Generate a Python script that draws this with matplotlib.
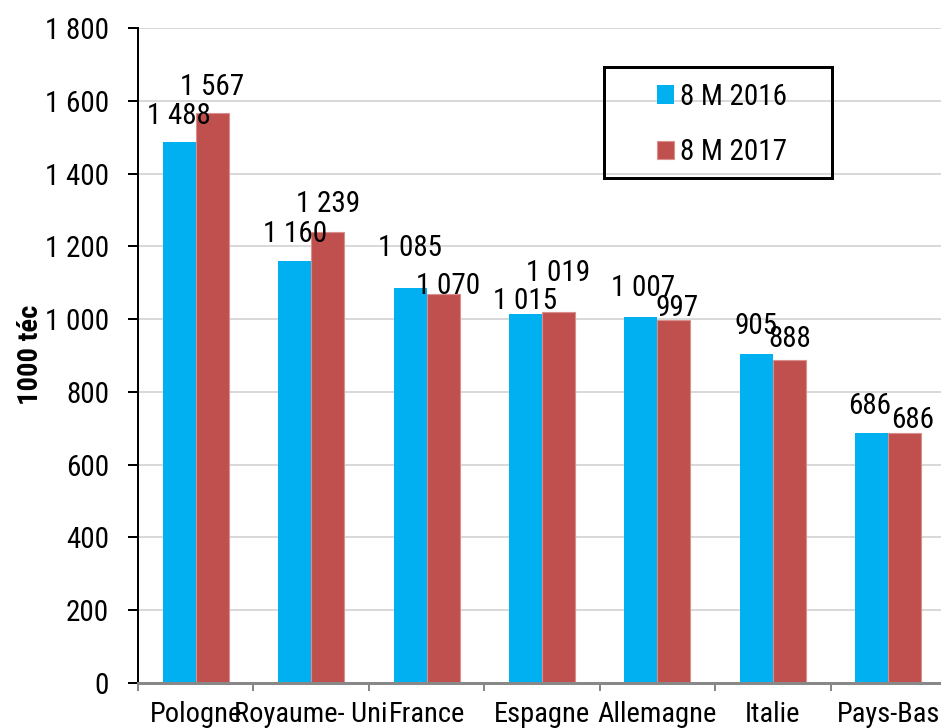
import numpy as np
import matplotlib
matplotlib.use("Agg")
import matplotlib.pyplot as plt
from matplotlib.patches import Rectangle
from matplotlib.ticker import FuncFormatter, FixedLocator

# condensed face, close to the narrow Arial of the original
plt.rcParams['font.family'] = ['Roboto Condensed', 'Liberation Sans', 'DejaVu Sans']

# data
pays = ["Pologne", "Royaume- Uni", "France", "Espagne", "Allemagne", "Italie", "Pays-Bas"]
val_2016 = [1488, 1160, 1085, 1015, 1007, 905, 686]
val_2017 = [1567, 1239, 1070, 1019, 997, 888, 686]
series_names = ["8 M 2016", "8 M 2017"]
y_ticks = [0, 200, 400, 600, 800, 1000, 1200, 1400, 1600, 1800]

# label placement (pixels above bar top, x shift) as in the original layout
gap_2016 = [18, 19, 32, 5, 21, 20, 19]
gap_2017 = [18, 20, 0, 31, 4, 13, 5]
dx_2016 = [0, 0, 0, 0, 2, 0, -2]
dx_2017 = [0, 0, 5, 0, 3, 0, 8]

BLUE = "#00B0F0"
RED = "#C0504D"
W, H = 941, 728
PX = 0.72  # points per pixel at dpi 100

fig = plt.figure(figsize=(W / 100, H / 100), dpi=100)
ax = fig.add_axes([138 / W, 45 / H, (946 - 138) / W, (683 - 28) / H])

x = np.arange(len(pays))
bw = 0.286
ax.bar(x - bw / 2, val_2016, bw, color=BLUE, label=series_names[0], zorder=3)
ax.bar(x + bw / 2, val_2017, bw, color=RED, edgecolor="#D8908E", linewidth=0.8,
       label=series_names[1], zorder=3)

fmt = lambda v: f"{v:,.0f}".replace(",", " ")

for i in range(len(pays)):
    ax.annotate(fmt(val_2016[i]), (x[i] - bw / 2, val_2016[i]),
                xytext=(dx_2016[i], gap_2016[i]), textcoords="offset pixels",
                ha="center", va="baseline", fontsize=21, zorder=5)
    ax.annotate(fmt(val_2017[i]), (x[i] + bw / 2, val_2017[i]),
                xytext=(dx_2017[i], gap_2017[i]), textcoords="offset pixels",
                ha="center", va="baseline", fontsize=21, zorder=5)

ax.set_xlim(-0.5, len(pays) - 0.5)
ax.set_ylim(0, 1800)
ax.yaxis.set_major_locator(FixedLocator(y_ticks))
ax.yaxis.set_major_formatter(FuncFormatter(lambda v, p: fmt(v)))
ax.grid(axis="y", color="#D9D9D9", linewidth=2 * PX, zorder=0)

ax.set_xticks(x)
ax.set_xticklabels(pays)
ax.set_xticks(np.arange(len(pays) + 1) - 0.5, minor=True)
ax.tick_params(axis="x", which="major", length=0, pad=18 * PX, labelsize=20.5)
ax.tick_params(axis="x", which="minor", length=8 * PX, width=2 * PX, color="#888888",
               direction="out")
ax.tick_params(axis="y", length=10 * PX, width=2 * PX, color="black", pad=19 * PX,
               labelsize=21)

for s in ["top", "right"]:
    ax.spines[s].set_visible(False)
ax.spines["left"].set_linewidth(2 * PX)
ax.spines["left"].set_color("black")
ax.spines["bottom"].set_linewidth(3 * PX)
ax.spines["bottom"].set_color("#888888")
ax.spines["bottom"].set_zorder(4)

fig.text(30 / W, 1 - 355 / H, "1000 téc", rotation=90, ha="center", va="center",
         fontsize=20.5, fontweight="bold")

leg = ax.legend(loc="center left", bbox_to_anchor=(657 / W, 1 - 124.5 / H),
                bbox_transform=fig.transFigure, frameon=False, fontsize=21,
                handlelength=0.59, handleheight=0.59, handletextpad=0.2,
                labelspacing=0.95, borderpad=0, borderaxespad=0)
fig.patches.append(Rectangle((604 / W, 1 - 178 / H), (832 - 604) / W, (178 - 67) / H,
                             transform=fig.transFigure, fill=False,
                             edgecolor="black", linewidth=3 * PX, zorder=6))

fig.savefig("out.png", dpi=100)
